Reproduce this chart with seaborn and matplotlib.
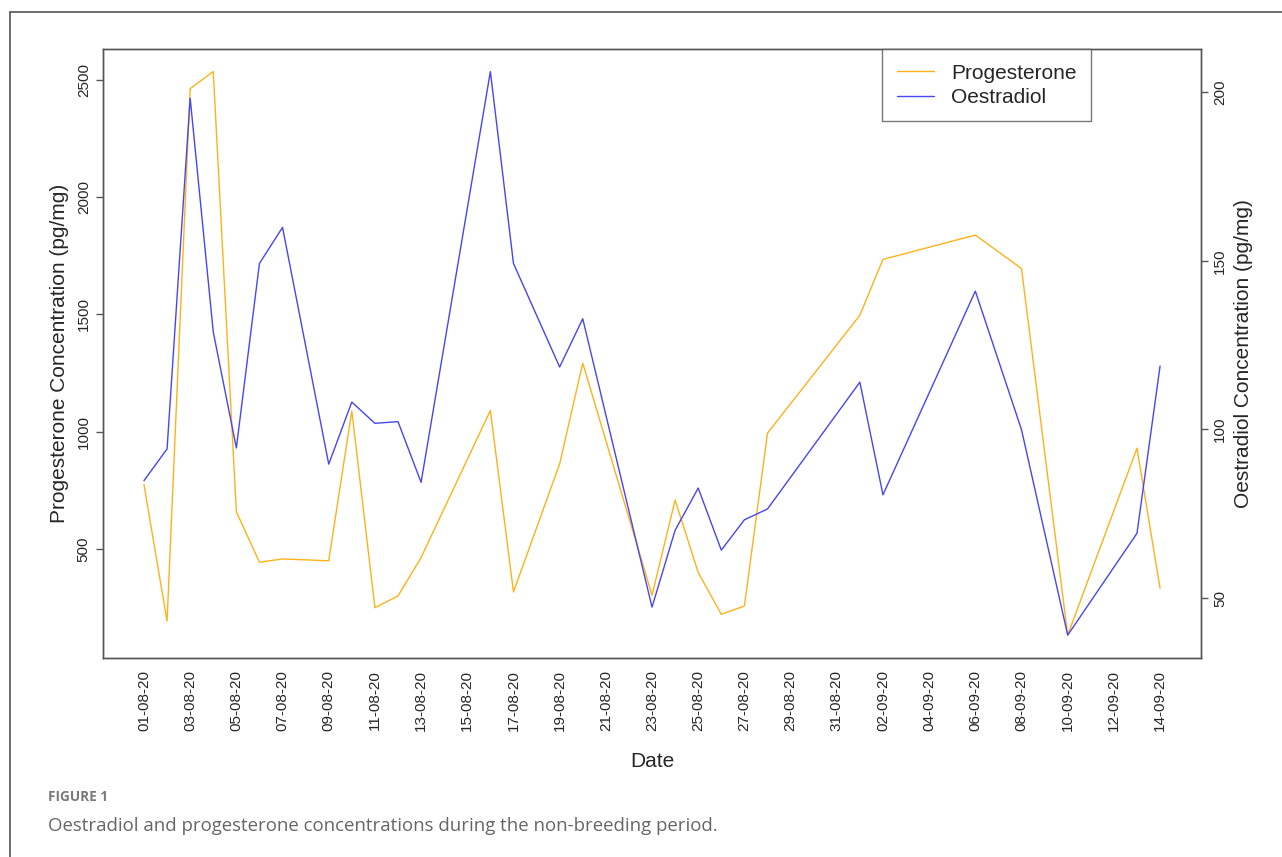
import pandas as pd
import matplotlib.pyplot as plt
import matplotlib.dates as mdates
from matplotlib.ticker import MultipleLocator
from matplotlib.lines import Line2D
import seaborn as sns

# sampling dates (dd-mm-yy)
dates = ['01-08-20', '02-08-20', '03-08-20', '04-08-20', '05-08-20', '06-08-20',
         '07-08-20', '09-08-20', '10-08-20', '11-08-20', '12-08-20', '13-08-20',
         '16-08-20', '17-08-20', '19-08-20', '20-08-20', '23-08-20', '24-08-20',
         '25-08-20', '26-08-20', '27-08-20', '28-08-20', '01-09-20', '02-09-20',
         '06-09-20', '08-09-20', '10-09-20', '13-09-20', '14-09-20']

# progesterone (pg/mg), left axis
progesterone = [774, 192, 2462, 2535, 658, 443,
                457, 449, 1088, 249, 299, 463,
                1090, 316, 862, 1292, 302, 708,
                399, 221, 256, 993, 1496, 1734,
                1838, 1695, 132, 929, 332]

# oestradiol (pg/mg), right axis
oestradiol = [84.8, 94.2, 198.2, 128.9, 94.5, 149.2,
              159.9, 89.7, 108.1, 101.8, 102.3, 84.3,
              206.1, 149.2, 118.5, 132.8, 47.3, 70.1,
              82.6, 64.2, 73.2, 76.4, 114.0, 80.6,
              141.0, 99.9, 39.0, 69.2, 118.8]

df = pd.DataFrame({'date': pd.to_datetime(dates, format='%d-%m-%y'),
                   'Progesterone': progesterone,
                   'Oestradiol': oestradiol})

sns.set_style("white")
plt.rcParams['font.family'] = ['Liberation Sans', 'DejaVu Sans']

col_p = '#FFB11B'
col_e = '#4646F2'
spine_col = '#555555'

fig = plt.figure(figsize=(12.82, 8.57), dpi=100)
ax = fig.add_axes([0.0806, 0.2326, 0.8560, 0.7102])
ax2 = ax.twinx()

sns.lineplot(data=df, x='date', y='Progesterone', ax=ax, color=col_p, linewidth=1.0)
sns.lineplot(data=df, x='date', y='Oestradiol', ax=ax2, color=col_e, linewidth=1.0)

ax.margins(x=0.04, y=0.04)
ax2.margins(x=0.04, y=0.04)

# ticks every 2 days, like the original
ticks = pd.date_range(df['date'].iloc[0], df['date'].iloc[-1], freq='2D')
ax.set_xticks(ticks)
ax.xaxis.set_major_formatter(mdates.DateFormatter('%d-%m-%y'))
ax.yaxis.set_major_locator(MultipleLocator(500))
ax2.yaxis.set_major_locator(MultipleLocator(50))
ax.set_ylim(bottom=36)

for a in (ax, ax2):
    for s in a.spines.values():
        s.set_color(spine_col)
        s.set_linewidth(1.0)
    a.tick_params(length=5, width=1, color=spine_col, pad=4, labelsize=11, direction='out')

ax.tick_params(axis='x', rotation=90)
plt.setp(ax.get_yticklabels(), rotation=90, va='center')
plt.setp(ax2.get_yticklabels(), rotation=90, va='center')

ax.set_xlabel('Date', fontsize=15)
ax.set_ylabel('Progesterone Concentration (pg/mg)', fontsize=15)
ax2.set_ylabel('Oestradiol Concentration (pg/mg)', fontsize=15)
ax.yaxis.set_label_coords(-0.031, 0.5)
ax2.yaxis.set_label_coords(1.030, 0.5)
ax.xaxis.set_label_coords(0.5, -0.155)

handles = [Line2D([], [], color=col_p, lw=1.0), Line2D([], [], color=col_e, lw=1.0)]
leg = ax2.legend(handles, ['Progesterone', 'Oestradiol'], loc='upper left',
                 bbox_to_anchor=(0.7096, 1.0), borderaxespad=0, fontsize=15,
                 fancybox=False, frameon=True, handlelength=1.8, handletextpad=0.8,
                 labelspacing=0.25, borderpad=0.7)
leg.get_frame().set_edgecolor(spine_col)
leg.get_frame().set_linewidth(1.0)

# outer frame (left and top edges only visible)
fig.add_artist(Line2D([10 / 1282, 10 / 1282], [0, 1 - 12 / 857], color=spine_col, lw=1.2,
                      transform=fig.transFigure))
fig.add_artist(Line2D([10 / 1282, 1], [1 - 12 / 857, 1 - 12 / 857], color=spine_col, lw=1.2,
                      transform=fig.transFigure))

fig.text(48 / 1282, 1 - 797 / 857, 'FIGURE 1', fontsize=9.8, fontweight='bold',
         color='#7a7a7a', family=['Open Sans', 'DejaVu Sans'], va='center')
fig.text(48 / 1282, 1 - 826 / 857,
         'Oestradiol and progesterone concentrations during the non-breeding period.',
         fontsize=13.4, color='#666666', family=['Open Sans', 'DejaVu Sans'], va='center')

fig.savefig('out.png', dpi=100)
